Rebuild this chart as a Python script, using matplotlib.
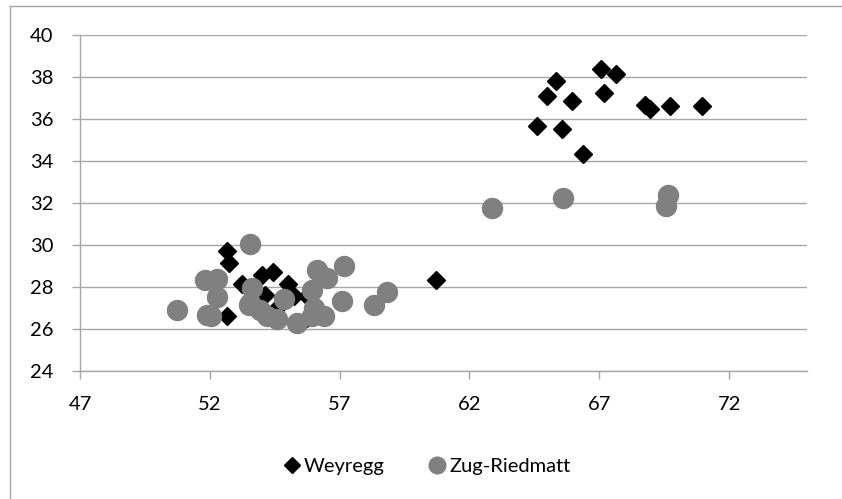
import matplotlib
matplotlib.use("Agg")
import matplotlib.pyplot as plt
from matplotlib.lines import Line2D

plt.rcParams['font.family'] = ['Lato', 'DejaVu Sans']

# lake sediment samples, two sites
weyregg_x = [65.34, 64.98, 65.95, 67.08, 67.66, 67.20, 64.61, 65.56, 66.37,
             68.75, 68.94, 69.73, 70.94,
             52.66, 52.73, 53.24, 54.02, 54.44, 55.02, 52.66, 54.14, 55.24,
             55.75, 55.75, 54.59, 60.71]
weyregg_y = [37.82, 37.10, 36.87, 38.37, 38.14, 37.25, 35.67, 35.52, 34.33,
             36.67, 36.46, 36.62, 36.62,
             29.71, 29.13, 28.14, 28.57, 28.68, 28.14, 26.59, 27.60, 27.54,
             27.54, 26.50, 26.98, 28.33]

zug_x = [62.87, 65.62, 69.65, 69.56,
         53.56, 51.83, 52.28, 52.28, 50.73, 51.89, 52.06, 53.63, 53.50, 53.95,
         54.21, 54.59, 54.85, 55.37, 56.11, 56.53, 57.17, 55.95, 56.01, 56.39,
         55.95, 57.10, 58.32, 58.81, 53.56]
zug_y = [31.75, 32.22, 32.38, 31.83,
         30.05, 28.30, 28.37, 27.51, 26.87, 26.67, 26.60, 27.94, 27.14, 26.90,
         26.59, 26.46, 27.41, 26.27, 28.78, 28.41, 28.97, 27.86, 26.98, 26.59,
         26.59, 27.30, 27.10, 27.73, 27.22]

x_ticks = [47, 52, 57, 62, 67, 72]
y_ticks = [24, 26, 28, 30, 32, 34, 36, 38, 40]

grid_grey = '#a6a6a6'
zug_grey = '#808080'

fig = plt.figure(figsize=(8.42, 4.99), dpi=100)
ax = fig.add_axes([80/842, 1 - 370.5/499, 727/842, 335.5/499])

ax.plot(weyregg_x, weyregg_y, linestyle='none', marker='D', ms=9.6,
        color='black', zorder=3)
ax.plot(zug_x, zug_y, linestyle='none', marker='o', ms=14.4,
        color=zug_grey, zorder=4)

ax.set_xlim(47, 75)
ax.set_ylim(24, 40)
ax.set_xticks(x_ticks)
ax.set_yticks(y_ticks)
ax.grid(axis='y', color=grid_grey, linewidth=1.0, zorder=0)
ax.set_axisbelow(True)

for side in ('top', 'right'):
    ax.spines[side].set_visible(False)
for side in ('left', 'bottom'):
    ax.spines[side].set_color(grid_grey)
    ax.spines[side].set_linewidth(1.0)
ax.tick_params(axis='both', direction='out', length=6, width=1.0,
               color=grid_grey, labelsize=14.5, labelcolor='black')
ax.tick_params(axis='y', pad=13)
ax.tick_params(axis='x', pad=12)

# chart area frame (clipped at right and bottom)
fig.add_artist(Line2D([10/842, 1.0], [1 - 6/499, 1 - 6/499], color=grid_grey,
                      linewidth=1.0, transform=fig.transFigure))
fig.add_artist(Line2D([10/842, 10/842], [0.0, 1 - 6/499], color=grid_grey,
                      linewidth=1.0, transform=fig.transFigure))

handles = [Line2D([], [], linestyle='none', marker='D', ms=8, color='black'),
           Line2D([], [], linestyle='none', marker='o', ms=12, color=zug_grey)]
fig.legend(handles, ['Weyregg', 'Zug-Riedmatt'], loc='center',
           bbox_to_anchor=(427/842, 1 - 466/499), ncol=2, frameon=False,
           fontsize=14.5, handlelength=0.8, handletextpad=0.2,
           columnspacing=2.2)

fig.savefig('out.png', dpi=100)
